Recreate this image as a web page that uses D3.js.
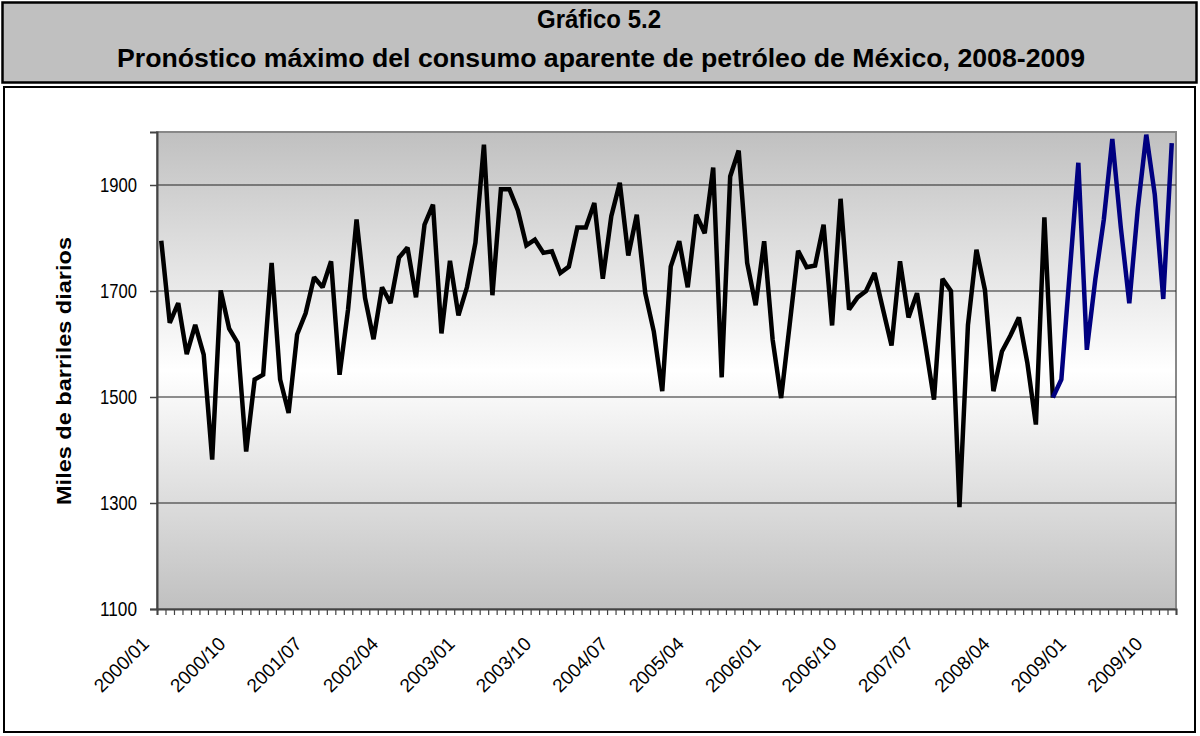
<!DOCTYPE html>
<html>
<head>
<meta charset="utf-8">
<script src="https://cdn.jsdelivr.net/npm/d3@7"></script>
<style>
  body { margin: 0; background: #fff; }
  svg { display: block; font-family: "Liberation Sans", Arial, sans-serif; }
</style>
</head>
<body>
<svg id="chart" width="1200" height="736"></svg>
<script>
// ---- data ----
const titleLines = [
  "Gráfico 5.2",
  "Pronóstico máximo del consumo aparente de petróleo de México, 2008-2009"
];
const yAxisTitle = "Miles de barriles diarios";

const years = [2000, 2001, 2002, 2003, 2004, 2005, 2006, 2007, 2008, 2009];
const monthCodes = ["01", "02", "03", "04", "05", "06", "07", "08", "09", "10", "11", "12"];
const categories = years.flatMap(yr => monthCodes.map(m => `${yr}/${m}`));

const tickLabels = ["2000/01", "2000/10", "2001/07", "2002/04", "2003/01", "2003/10", "2004/07",
                    "2005/04", "2006/01", "2006/10", "2007/07", "2008/04", "2009/01", "2009/10"];
const yTicks = [1100, 1300, 1500, 1700, 1900];

// observed apparent consumption, 2000/01 - 2008/10
const consumoObservado = [
  1795, 1640, 1677, 1581, 1636, 1580, 1382, 1701, 1629, 1602, 1397, 1533,
  1542, 1753, 1533, 1470, 1618, 1658, 1726, 1707, 1756, 1542, 1665, 1835,
  1687, 1609, 1707, 1677, 1763, 1782, 1688, 1825, 1863, 1620, 1757, 1654,
  1707, 1791, 1976, 1692, 1892, 1892, 1852, 1786, 1797, 1772, 1775, 1734,
  1746, 1820, 1820, 1866, 1723, 1841, 1904, 1767, 1844, 1696, 1624, 1511,
  1746, 1794, 1707, 1844, 1809, 1933, 1537, 1916, 1965, 1753, 1673, 1794,
  1608, 1498, 1636, 1776, 1745, 1748, 1825, 1635, 1874, 1665, 1688, 1700,
  1734, 1665, 1597, 1756, 1650, 1696, 1598, 1495, 1723, 1700, 1292, 1636,
  1778, 1702, 1511, 1586, 1616, 1650, 1564, 1448, 1839, 1499
];
// maximum forecast, 2008/10 - 2009/12
const pronosticoMaximo = [
  1499, 1533, 1738, 1942, 1589, 1722, 1835, 1987, 1820, 1677, 1855, 1995, 1882, 1685, 1979
];
const forecastStart = consumoObservado.length - 1;

// ---- layout ----
const FONT = "'Liberation Sans', Arial, sans-serif";
const svg = d3.select("#chart");
const plot = { left: 157, right: 1176, top: 132, bottom: 609 };

// title box
svg.append("rect")
  .attr("x", 2.5).attr("y", 2.5).attr("width", 1194).attr("height", 80)
  .attr("fill", "#c0c0c0").attr("stroke", "#000").attr("stroke-width", 2.5);

const titleText = svg.append("g")
  .attr("font-family", FONT)
  .attr("font-weight", "bold").attr("font-size", 25).attr("text-anchor", "middle").attr("fill", "#000");
titleText.append("text").attr("x", 599).attr("y", 28).attr("textLength", 124)
  .attr("lengthAdjust", "spacingAndGlyphs").text(titleLines[0]);
titleText.append("text").attr("x", 601).attr("y", 67).attr("textLength", 968)
  .attr("lengthAdjust", "spacingAndGlyphs").text(titleLines[1]);

// chart frame
svg.append("rect")
  .attr("x", 4).attr("y", 87).attr("width", 1191).attr("height", 645)
  .attr("fill", "#fff").attr("stroke", "#000").attr("stroke-width", 2);

// ---- scales ----
const x = d3.scaleBand().domain(categories).range([plot.left, plot.right]).paddingInner(0).paddingOuter(0);
const bw = x.bandwidth();
const cx = c => x(c) + bw / 2;
const y = d3.scaleLinear().domain([1100, 2000]).range([plot.bottom, plot.top]);

// plot background gradient
const defs = svg.append("defs");
const grad = defs.append("linearGradient").attr("id", "plotBg")
  .attr("x1", 0).attr("y1", 0).attr("x2", 0).attr("y2", 1);
grad.append("stop").attr("offset", "0%").attr("stop-color", "#c0c0c0");
grad.append("stop").attr("offset", "50%").attr("stop-color", "#ffffff");
grad.append("stop").attr("offset", "100%").attr("stop-color", "#c0c0c0");

svg.append("rect")
  .attr("x", plot.left).attr("y", plot.top)
  .attr("width", plot.right - plot.left).attr("height", plot.bottom - plot.top)
  .attr("fill", "url(#plotBg)").attr("stroke", "#888").attr("stroke-width", 2);

// gridlines
svg.append("g").selectAll("line")
  .data(yTicks.filter(v => v > 1100))
  .join("line")
  .attr("x1", plot.left).attr("x2", plot.right)
  .attr("y1", d => y(d)).attr("y2", d => y(d))
  .attr("stroke", "#222").attr("stroke-width", 1.2);

// y axis
const yAxis = svg.append("g")
  .attr("transform", `translate(${plot.left},0)`)
  .call(d3.axisLeft(y).tickValues(yTicks).tickSize(7).tickPadding(13).tickFormat(d3.format("d")));
yAxis.select(".domain").attr("stroke", "#444").attr("stroke-width", 2);
yAxis.selectAll(".tick line").attr("stroke", "#444").attr("stroke-width", 1.5);
yAxis.selectAll(".tick text").attr("font-size", 20).attr("fill", "#000")
  .attr("font-family", FONT)
  .attr("textLength", 37).attr("lengthAdjust", "spacingAndGlyphs");

// x axis: ticks on category boundaries
const xEdge = d3.scaleLinear().domain([0, categories.length]).range([plot.left, plot.right]);
const xAxis = svg.append("g")
  .attr("transform", `translate(0,${plot.bottom})`)
  .call(d3.axisBottom(xEdge).tickValues(d3.range(categories.length + 1)).tickSize(6).tickFormat(""));
xAxis.select(".domain").attr("stroke", "#444").attr("stroke-width", 2);
xAxis.selectAll(".tick line").attr("stroke", "#444").attr("stroke-width", 1.2);

// rotated month labels
svg.append("g").selectAll("text")
  .data(tickLabels)
  .join("text")
  .attr("transform", d => `translate(${cx(d) - 11},${plot.bottom + 36}) rotate(-45)`)
  .attr("text-anchor", "end")
  .attr("font-family", FONT)
  .attr("font-size", 19)
  .attr("fill", "#000")
  .text(d => d);

// y axis title
svg.append("text")
  .attr("transform", "translate(71,371) rotate(-90)")
  .attr("text-anchor", "middle")
  .attr("font-family", FONT)
  .attr("font-weight", "bold")
  .attr("font-size", 21)
  .attr("textLength", 268)
  .attr("lengthAdjust", "spacingAndGlyphs")
  .text(yAxisTitle);

// ---- series ----
const observed = consumoObservado.map((v, i) => ({ cat: categories[i], v }));
const forecast = pronosticoMaximo.map((v, i) => ({ cat: categories[forecastStart + i], v }));

const line = d3.line().x(d => cx(d.cat)).y(d => y(d.v));

svg.append("path")
  .datum(observed)
  .attr("d", line)
  .attr("fill", "none")
  .attr("stroke", "#000")
  .attr("stroke-width", 4.5)
  .attr("stroke-linejoin", "miter")
  .attr("stroke-miterlimit", 2);

svg.append("path")
  .datum(forecast)
  .attr("d", line)
  .attr("fill", "none")
  .attr("stroke", "#000080")
  .attr("stroke-width", 4.5)
  .attr("stroke-linejoin", "miter")
  .attr("stroke-miterlimit", 2);
</script>
</body>
</html>
